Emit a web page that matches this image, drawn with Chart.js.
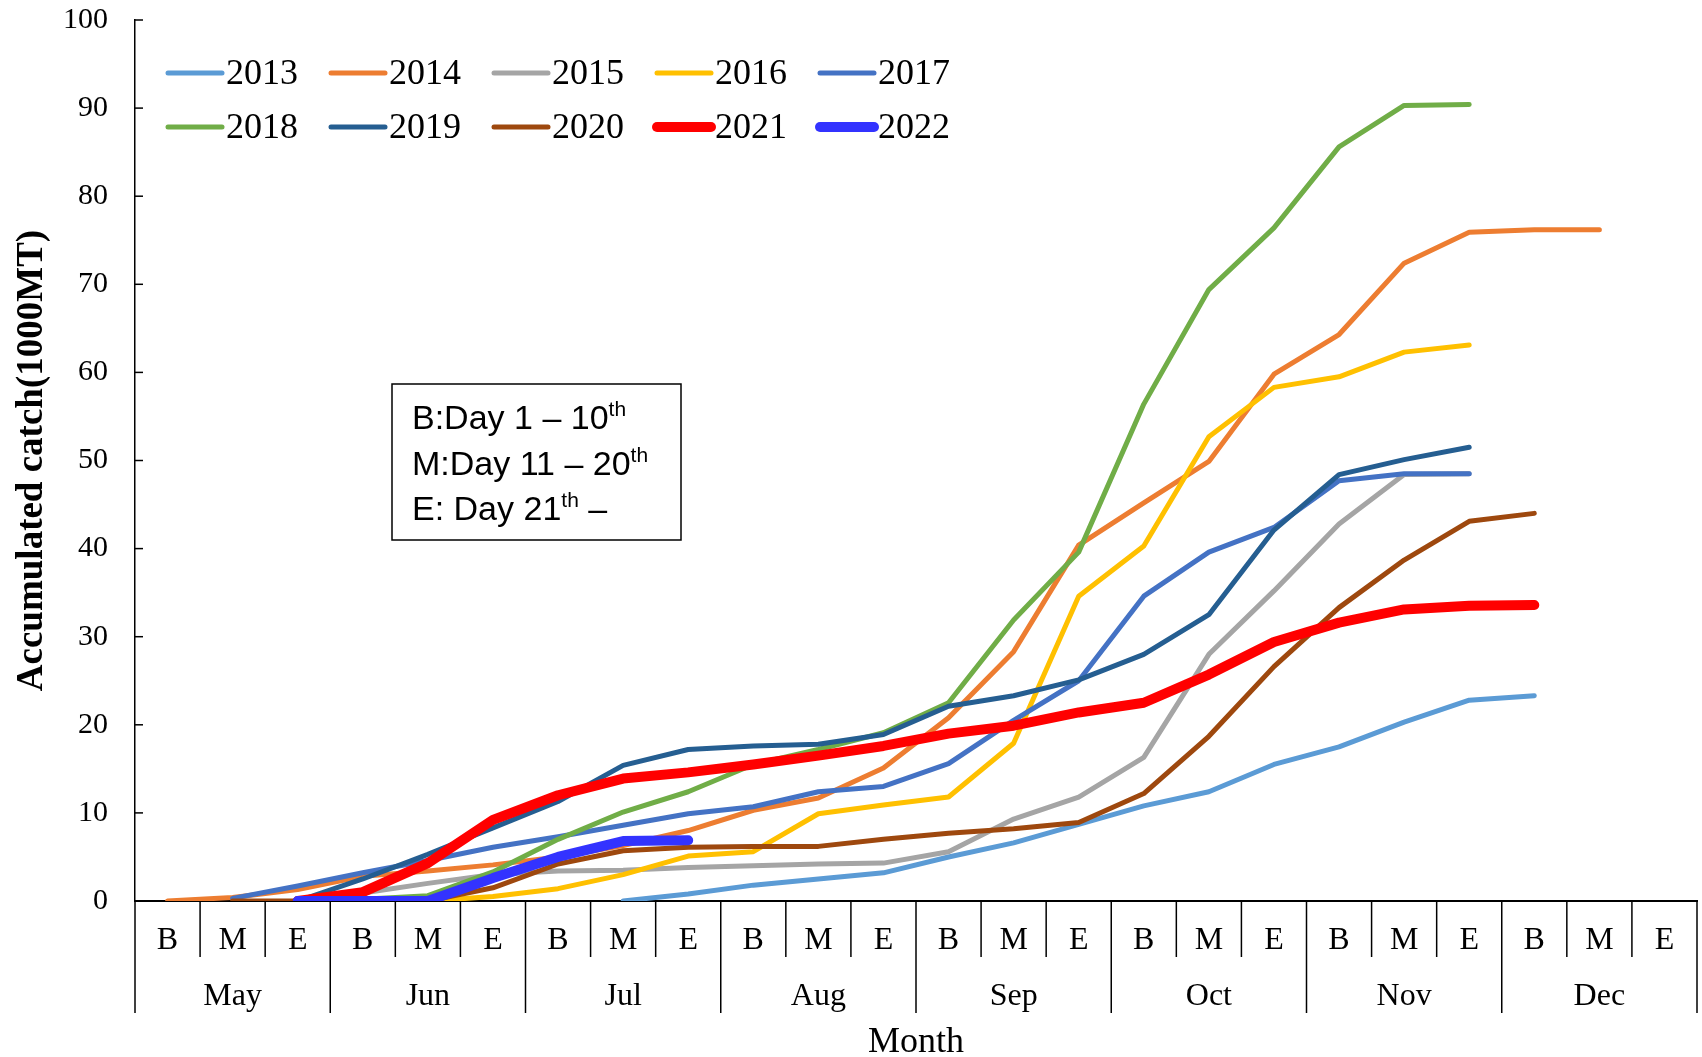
<!DOCTYPE html>
<html lang="en">
<head>
  <meta charset="UTF-8"/>
  <title>Accumulated catch</title>
  <script src="https://cdn.jsdelivr.net/npm/chart.js"></script>
  <style>
    html, body { margin: 0; padding: 0; background: #fff; }
    #wrap { width: 1702px; height: 1057px; }
  </style>
</head>
<body>
  <div id="wrap"><canvas id="catchChart" width="1702" height="1057"></canvas></div>
  <script>
    // tick labels
    const months = ['May', 'Jun', 'Jul', 'Aug', 'Sep', 'Oct', 'Nov', 'Dec'];
    const periods = ['B', 'M', 'E'];
    const categories = months.flatMap(m => periods.map(p => m + ' ' + p));

    // accumulated catch (1000 MT), one value per ten-day period, null = no data
    const y2013 = [null, null, null, null, null, null, null, 0, 0.8, 1.8, 2.5, 3.2, 5.0, 6.6, 8.7, 10.8, 12.4, 15.5, 17.5, 20.3, 22.8, 23.3, null, null];
    const y2014 = [0, 0.4, 1.3, 2.8, 3.4, 4.1, 5.0, 6.3, 8.0, 10.3, 11.7, 15.1, 20.8, 28.3, 40.4, 45.2, 49.9, 59.8, 64.3, 72.4, 75.9, 76.2, 76.2, null];
    const y2015 = [null, null, 0, 0.9, 2.0, 3.0, 3.4, 3.5, 3.8, 4.0, 4.2, 4.3, 5.6, 9.3, 11.8, 16.3, 28.0, 35.2, 42.8, 48.4, 48.5, null, null, null];
    const y2016 = [null, null, null, null, 0, 0.5, 1.4, 3.0, 5.1, 5.6, 9.9, 10.9, 11.8, 17.9, 34.6, 40.3, 52.7, 58.3, 59.5, 62.3, 63.1, null, null, null];
    const y2017 = [null, 0.3, 1.7, 3.2, 4.6, 6.1, 7.3, 8.6, 9.9, 10.7, 12.4, 13.0, 15.6, 20.5, 25.0, 34.6, 39.6, 42.4, 47.7, 48.5, 48.5, null, null, null];
    const y2018 = [null, null, 0, 0.2, 0.6, 3.3, 7.0, 10.1, 12.4, 15.5, 17.2, 19.1, 22.5, 31.9, 39.6, 56.4, 69.4, 76.4, 85.6, 90.3, 90.4, null, null, null];
    const y2019 = [null, null, 0, 2.5, 5.3, 8.3, 11.3, 15.4, 17.2, 17.6, 17.8, 18.9, 22.1, 23.3, 25.1, 28.0, 32.5, 42.1, 48.4, 50.1, 51.5, null, null, null];
    const y2020 = [null, 0, 0, 0, 0, 1.5, 4.2, 5.7, 6.1, 6.2, 6.2, 7.0, 7.7, 8.2, 8.9, 12.2, 18.7, 26.6, 33.3, 38.7, 43.1, 44.0, null, null];
    const y2021 = [null, null, 0, 1.0, 4.3, 9.2, 12.0, 13.9, 14.6, 15.5, 16.5, 17.6, 19.0, 19.9, 21.4, 22.5, 25.7, 29.4, 31.6, 33.1, 33.5, 33.6, null, null];
    const y2022 = [null, null, 0, 0, 0, 2.6, 5.0, 6.8, 6.9, null, null, null, null, null, null, null, null, null, null, null, null, null, null, null];

    const years = ['2013', '2014', '2015', '2016', '2017', '2018', '2019', '2020', '2021', '2022'];
    const series = [y2013, y2014, y2015, y2016, y2017, y2018, y2019, y2020, y2021, y2022];
    const colors = ['#5B9BD5', '#ED7D31', '#A5A5A5', '#FFC000', '#4472C4', '#70AD47', '#255E91', '#9E480E', '#FF0000', '#3333FF'];
    const widths = [5, 5, 5, 5, 5, 5, 5, 5, 10, 10];

    const serif = '"Liberation Serif", "Times New Roman", serif';
    const sans = '"Liberation Sans", Arial, sans-serif';

    function line(ctx, x1, y1, x2, y2) {
      ctx.beginPath();
      ctx.moveTo(x1, y1);
      ctx.lineTo(x2, y2);
      ctx.stroke();
    }

    // text with a small raised "th"
    function supText(ctx, parts, x, y) {
      let cx = x;
      parts.forEach(p => {
        ctx.font = p.sup ? '21px ' + sans : '34px ' + sans;
        ctx.fillText(p.t, cx, p.sup ? y - 13 : y);
        cx += ctx.measureText(p.t).width;
      });
    }

    const decor = {
      id: 'decor',
      afterDraw(chart) {
        const { ctx, chartArea: a, scales: { x, y } } = chart;
        ctx.save();
        ctx.strokeStyle = '#000';
        ctx.fillStyle = '#000';
        ctx.lineWidth = 1.5;

        // inside tick marks on the value axis
        y.ticks.forEach(t => {
          const py = y.getPixelForValue(t.value);
          line(ctx, a.left, py, a.left + 8, py);
        });

        // table under the axis: period separators and month separators
        const slot = x.getPixelForValue(1) - x.getPixelForValue(0);
        for (let i = 0; i <= categories.length; i++) {
          const px = x.getPixelForValue(0) - slot / 2 + i * slot;
          line(ctx, px, a.bottom, px, a.bottom + (i % 3 === 0 ? 112 : 56));
        }
        ctx.font = '32px ' + serif;
        ctx.textAlign = 'center';
        ctx.textBaseline = 'middle';
        months.forEach((m, k) => ctx.fillText(m, x.getPixelForValue(k * 3 + 1), a.bottom + 96));

        // legend, two rows of five
        ctx.textAlign = 'left';
        ctx.lineCap = 'round';
        chart.data.datasets.forEach((ds, k) => {
          const x0 = a.left + 33 + (k % 5) * 163;
          const yy = a.top + 53 + Math.floor(k / 5) * 54;
          ctx.strokeStyle = ds.borderColor;
          ctx.lineWidth = ds.borderWidth;
          line(ctx, x0, yy, x0 + 54, yy);
          ctx.font = '36px ' + serif;
          ctx.fillText(ds.label, x0 + 58, yy + 2);
        });

        // note box
        const bx = a.left + 257, by = a.top + 364;
        ctx.strokeStyle = '#000';
        ctx.lineWidth = 1.5;
        ctx.lineCap = 'butt';
        ctx.strokeRect(bx, by, 289, 156);
        ctx.textBaseline = 'alphabetic';
        supText(ctx, [{ t: 'B:Day 1 \u2013 10' }, { t: 'th', sup: true }], bx + 20, by + 45);
        supText(ctx, [{ t: 'M:Day 11 \u2013 20' }, { t: 'th', sup: true }], bx + 20, by + 91);
        supText(ctx, [{ t: 'E: Day 21' }, { t: 'th', sup: true }, { t: ' \u2013' }], bx + 20, by + 136);
        ctx.restore();
      }
    };

    const ctx = document.getElementById('catchChart').getContext('2d');
    new Chart(ctx, {
      type: 'line',
      data: {
        labels: categories,
        datasets: years.map((yr, i) => ({
          label: yr,
          data: series[i],
          borderColor: colors[i],
          backgroundColor: colors[i],
          borderWidth: widths[i],
          borderCapStyle: 'round',
          borderJoinStyle: 'round',
          pointRadius: 0,
          tension: 0,
          fill: false,
          spanGaps: false,
          order: years.length - i
        }))
      },
      options: {
        responsive: false,
        animation: false,
        layout: { padding: { top: 20, right: 5, left: 0, bottom: 0 } },
        plugins: {
          legend: { display: false },
          tooltip: { enabled: false }
        },
        scales: {
          x: {
            offset: true,
            grid: { display: false, drawTicks: false },
            border: { display: true, color: '#000', width: 2 },
            ticks: {
              color: '#000',
              font: { family: serif, size: 32 },
              padding: 20,
              maxRotation: 0,
              autoSkip: false,
              callback: (v, i) => periods[i % 3]
            },
            title: {
              display: true,
              text: 'Month',
              color: '#000',
              font: { family: serif, size: 36, lineHeight: 0.8 },
              padding: { top: 0, bottom: 0 }
            },
            afterFit: s => { s.height = 156; }
          },
          y: {
            min: 0,
            max: 100,
            grid: { display: false, drawTicks: true, tickLength: 27 },
            border: { display: true, color: '#000', width: 1.5 },
            ticks: {
              stepSize: 10,
              color: '#000',
              font: { family: serif, size: 30 },
              padding: 0
            },
            title: {
              display: true,
              text: 'Accumulated catch(1000MT)',
              color: '#000',
              font: { family: serif, size: 37, weight: 'bold', lineHeight: 1.2 },
              padding: { top: 10, bottom: 0 }
            },
            afterFit: s => { s.width = 135; }
          }
        }
      },
      plugins: [decor]
    });
  </script>
</body>
</html>
